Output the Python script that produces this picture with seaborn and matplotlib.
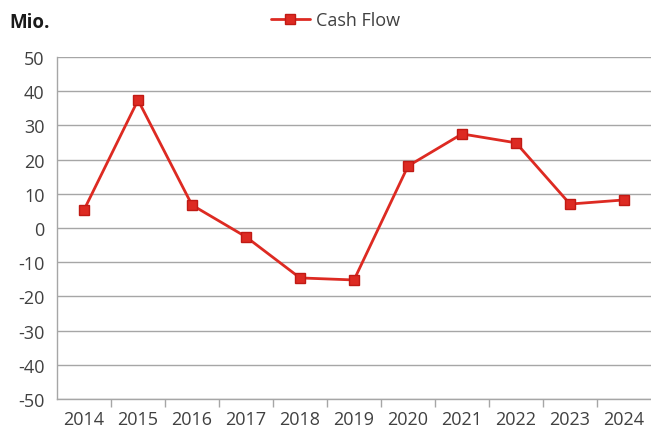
import pandas as pd
import matplotlib.pyplot as plt
import seaborn as sns

# Daten
jahre = ['2014', '2015', '2016', '2017', '2018', '2019', '2020', '2021', '2022', '2023', '2024']
cash_flow = [5.3, 37.4, 6.7, -2.6, -14.6, -15.2, 18.1, 27.5, 24.9, 7.0, 8.2]

df = pd.DataFrame({'Jahr': jahre, 'Cash Flow': cash_flow})
df['pos'] = range(len(jahre))

sns.set_style('white')
plt.rcParams['font.family'] = ['Open Sans', 'DejaVu Sans']
plt.rcParams['axes.unicode_minus'] = False

fig = plt.figure(figsize=(6.51, 4.35), dpi=100)
ax = fig.add_axes([0.0876, 0.0805, 0.9124, 0.7862])

rot = '#DD2A22'
sns.lineplot(data=df, x='pos', y='Cash Flow', ax=ax, color=rot, linewidth=2,
             marker='s', markersize=7.5, markerfacecolor=rot, markeredgecolor='#C01A14',
             markeredgewidth=1, label='Cash Flow')

ax.set_xlim(-0.5, len(jahre) - 0.5)
ax.set_ylim(-50, 50)
ax.set_yticks(range(-50, 51, 10))
ax.yaxis.grid(True, color='#A6A6A6', linewidth=1)
ax.set_axisbelow(True)

# Kategorie-Achse: Labels in der Mitte, Striche dazwischen
ax.set_xticks(df['pos'])
ax.set_xticklabels(jahre)
ax.set_xticks([p + 0.5 for p in range(len(jahre) - 1)], minor=True)
ax.tick_params(axis='x', which='major', length=0, pad=8, labelsize=13, colors='#404040')
ax.tick_params(axis='x', which='minor', length=6, width=1, color='#A6A6A6', direction='out', bottom=True)
ax.tick_params(axis='y', length=5, width=1, direction='out',
               labelsize=13, labelcolor='#404040', color='#A6A6A6', pad=4)

for s in ['top', 'right']:
    ax.spines[s].set_visible(False)
ax.spines['left'].set_color('#A6A6A6')
ax.spines['bottom'].set_color('#A6A6A6')
ax.spines['left'].set_linewidth(1)
ax.spines['bottom'].set_linewidth(1)

ax.set_xlabel('')
ax.set_ylabel('')

leg = ax.legend(loc='center', bbox_to_anchor=(0.515, 0.952), bbox_transform=fig.transFigure,
                frameon=False, fontsize=13, handlelength=2.2, handletextpad=0.3)
for t in leg.get_texts():
    t.set_color('#404040')

fig.text(0.015, 0.948, 'Mio.', fontsize=13.5, fontweight='bold', color='#1a1a1a', va='center')

fig.savefig('out.png', dpi=100)
